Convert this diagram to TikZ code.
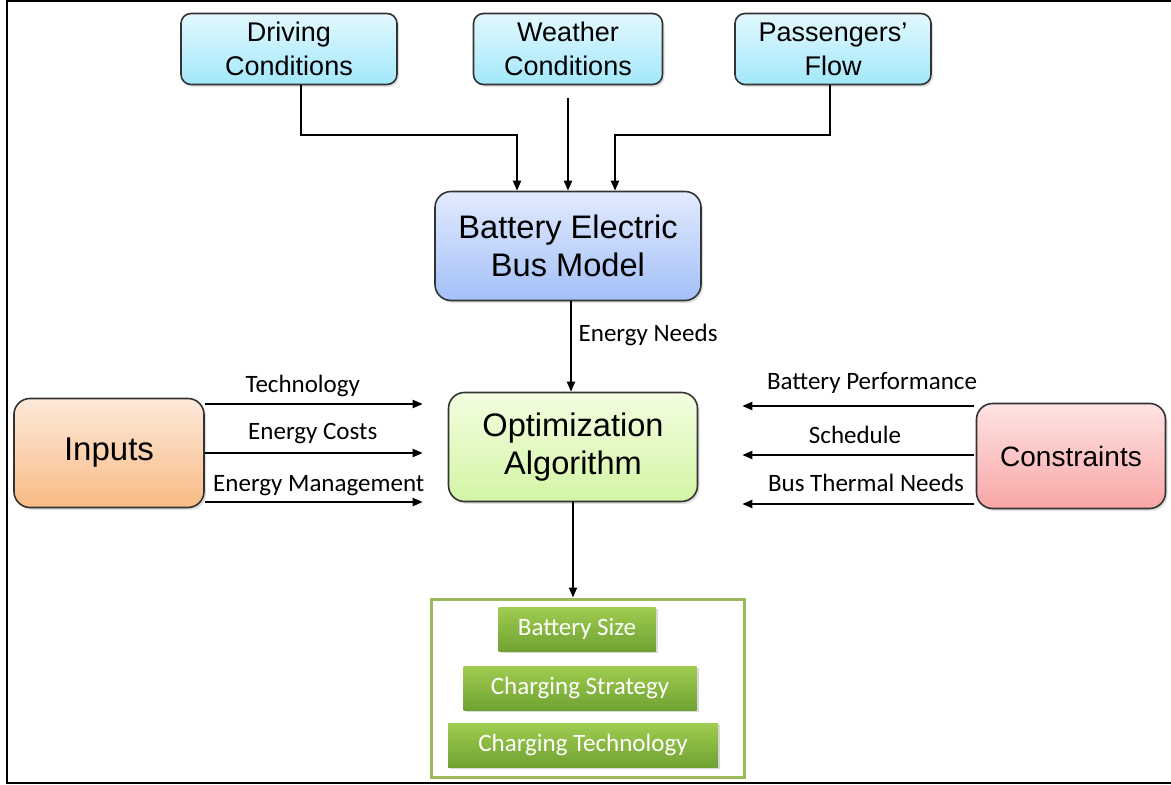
\documentclass[tikz,border=0pt]{standalone}
\usepackage{fontspec}
\setmainfont{Liberation Sans}
\newfontfamily\labfont{Carlito}
\usetikzlibrary{arrows.meta,shadows}
\definecolor{cyantop}{HTML}{E3F8FE}
\definecolor{cyanbot}{HTML}{A2E8FB}
\definecolor{bluetop}{HTML}{E2EAFE}
\definecolor{bluebot}{HTML}{A3C0F8}
\definecolor{limetop}{HTML}{F2FEE0}
\definecolor{limebot}{HTML}{D3F5A5}
\definecolor{orangetop}{HTML}{FDE9DA}
\definecolor{orangebot}{HTML}{F9BB84}
\definecolor{redtop}{HTML}{FFE3E3}
\definecolor{redbot}{HTML}{F9A6A6}
\definecolor{leaftop}{HTML}{A0CC50}
\definecolor{leafbot}{HTML}{70A232}
\definecolor{framegreen}{HTML}{9BBB59}
\tikzset{
  box/.style={draw=black!80, line width=0.8pt, rounded corners=5pt, align=center,
    drop shadow={opacity=0.25, shadow xshift=1pt, shadow yshift=-1.2pt}},
  topbox/.style={box, top color=cyantop, bottom color=cyanbot, minimum height=35.5pt,
    font=\fontsize{13.5}{17}\selectfont},
  bigbox/.style={box, rounded corners=8pt, minimum height=54.5pt,
    font=\fontsize{16.3}{19}\selectfont},
  leafbox/.style={top color=leaftop, bottom color=leafbot, text=white, minimum height=22pt,
    font=\labfont\fontsize{12.5}{14}\selectfont,
    drop shadow={opacity=0.3, shadow xshift=1pt, shadow yshift=-1pt}},
  arr/.style={-{Triangle[length=5pt,width=4pt]}, line width=1pt},
  lab/.style={font=\labfont\fontsize{12.5}{14}\selectfont}
}
\begin{document}
\begin{tikzpicture}[x=0.5pt, y=-0.5pt]
\useasboundingbox (0,0) rectangle (1171,785);
% outer frame
\draw[line width=1pt] (1172,1) -- (7,1) -- (7,783) -- (1172,783);
% influences
\node[topbox, minimum width=108pt] (drive) at (289,49) {Driving\\Conditions};
\node[topbox, minimum width=94.5pt] (weather) at (568,49) {Weather\\Conditions};
\node[topbox, minimum width=98pt] (flow) at (833,49) {Passengers'\\Flow};
% main blocks
\node[bigbox, top color=bluetop, bottom color=bluebot, minimum width=133pt] (bus) at (568,246) {Battery Electric\\Bus Model};
\node[bigbox, top color=limetop, bottom color=limebot, minimum width=124.5pt] (opt) at (573,447) {Optimization\\Algorithm};
\node[bigbox, top color=orangetop, bottom color=orangebot, minimum width=95pt,
  font=\fontsize{16.5}{19}\selectfont] (inputs) at (109,453) {Inputs};
\node[bigbox, top color=redtop, bottom color=redbot, minimum width=94.5pt, minimum height=52.5pt,
  font=\fontsize{14}{17}\selectfont] (cons) at (1071,456) {Constraints};
% results
\node[draw=framegreen, line width=1.5pt, minimum width=156.5pt, minimum height=89pt] (out) at (587.5,688) {};
\node[leafbox, minimum width=78.5pt] (size) at (577,629) {Battery Size};
\node[leafbox, minimum width=116.5pt] (strat) at (580,688) {Charging Strategy};
\node[leafbox, minimum width=135pt] (tech) at (583,745) {Charging Technology};
% arrows into the bus model
\draw[arr] ([xshift=6pt]drive.south) -- ++(0,50) -| ([xshift=-25.5pt]bus.north);
\draw[arr] ([yshift=-6.5pt]weather.south) -- (bus.north);
\draw[arr] ([xshift=-1.5pt]flow.south) -- ++(0,50) -| ([xshift=23.5pt]bus.north);
\draw[arr] ([xshift=1.5pt]bus.south) -- ([xshift=-1pt]opt.north) node[pos=0.37, right, lab] {Energy Needs};
% side arrows (y, label shift, label)
\foreach \y/\dx/\dy/\lab in {404/-11/0/Technology, 453/-1/1.5/Energy Costs, 502/5/-1/Energy Management}
  \draw[arr] (inputs.east |- 0,\y) -- ([xshift=-12.5pt]opt.west |- 0,\y)
    node[midway, above, lab, xshift=\dx*0.5pt, yshift=\dy*0.5pt] {\lab};
\foreach \y/\dx/\dy/\lab in {406/14/5/Battery Performance, 455/-3/4/Schedule, 504/8/5/Bus Thermal Needs}
  \draw[arr] ([xshift=-1pt]cons.west |- 0,\y) -- ([xshift=22pt]opt.east |- 0,\y)
    node[midway, above, lab, xshift=\dx*0.5pt, yshift=\dy*0.5pt] {\lab};
\draw[arr] (opt.south) -- (opt.south |- out.north);
\end{tikzpicture}
\end{document}
